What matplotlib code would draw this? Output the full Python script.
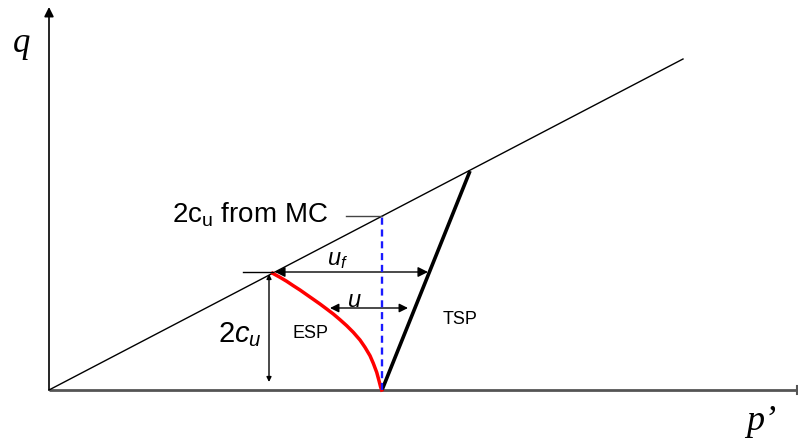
import matplotlib.pyplot as plt
from matplotlib.patches import FancyArrowPatch

plt.rcParams["mathtext.fontset"] = "custom"
plt.rcParams["mathtext.rm"] = "Liberation Sans"
plt.rcParams["mathtext.it"] = "Liberation Sans:italic"

# p'-q plane, origin at the corner of the axes (units roughly pixels)
ORIGIN_PX = (49, 391)

# Mohr-Coulomb failure line end points
mc_p = [0, 634]
mc_q = [0, 331]

# total stress path (straight) and effective stress path (curved)
tsp_p = [333, 421]
tsp_q = [0, 219]
esp_p = [332.7, 331.7, 330.0, 327.7, 324.3, 321.0, 316.0, 311.0, 304.3,
         297.7, 291.0, 284.3, 277.7, 271.0, 264.3, 257.7, 251.0, 244.3,
         237.7, 231.0, 223.7]
esp_q = [0.0, 2.7, 9.3, 17.7, 26.7, 34.3, 42.7, 50.0, 57.7,
         64.3, 70.3, 76.0, 81.0, 86.0, 90.7, 95.3, 100.0, 104.3,
         108.7, 112.7, 116.7]

# undrained strength read at the failure point and from MC at p0
fail_p, fail_q = 224, 117
p0 = 333
mc_q_at_p0 = 174
u_f_end = 379
u_q, u_left, u_right = 82, 281, 359

fig = plt.figure(figsize=(7.98, 4.39), dpi=100)
ax = fig.add_axes([0, 0, 1, 1])
ax.set_xlim(-ORIGIN_PX[0], 798 - ORIGIN_PX[0])
ax.set_ylim(ORIGIN_PX[1] - 439, ORIGIN_PX[1])
ax.axis("off")


def arrow(x0, y0, x1, y1, style, scale, lw=1.0, color="black"):
    ax.add_patch(FancyArrowPatch((x0, y0), (x1, y1), arrowstyle=style,
                                 mutation_scale=scale, lw=lw, color=color,
                                 shrinkA=0, shrinkB=0, clip_on=False))


# axes
arrow(0, 0, 0, 383, "-|>", 14, lw=1.2)
ax.plot([0, 748], [0, 0], color="#555555", lw=2.0, solid_capstyle="butt")
ax.plot([748, 748], [-4, 4], color="#555555", lw=1.5)

# failure line and stress paths
ax.plot(mc_p, mc_q, color="black", lw=1.0)
ax.plot(tsp_p, tsp_q, color="black", lw=2.6, solid_capstyle="butt")
ax.plot(esp_p, esp_q, color="#ff0000", lw=2.5)
ax.plot([p0, p0], [0, mc_q_at_p0], color="#1a1aff", lw=1.7, ls=(0, (3, 2)))
ax.plot([297, p0], [mc_q_at_p0, mc_q_at_p0], color="#444444", lw=1.0)

# pore pressure arrows
ax.plot([194, fail_p], [fail_q + 1, fail_q + 1], color="black", lw=1.0)
arrow(fail_p + 2, fail_q + 1, u_f_end, fail_q + 1, "<|-|>", 15)
arrow(u_left, u_q, u_right, u_q, "<|-|>", 13)
arrow(220, 8, 220, fail_q - 1, "<|-|>", 7)

# labels
ax.text(-27, 347, "q", fontsize=25, family="Liberation Serif",
        style="italic", ha="center", va="center")
ax.text(712, -31, "p\u2019", fontsize=26, family="Liberation Serif",
        style="italic", ha="center", va="center")
ax.text(279, 176, r"2c$_\mathrm{u}$ from MC", fontsize=20,
        family="Liberation Sans", ha="right", va="center")
ax.text(278, 132, r"$u_f$", fontsize=17, va="center")
ax.text(298, 91, r"$u$", fontsize=17, va="center")
ax.text(169, 56, r"$2c_u$", fontsize=21, va="center")
ax.text(243, 57, "ESP", fontsize=13, family="Liberation Sans", va="center")
ax.text(394, 72, "TSP", fontsize=13, family="Liberation Sans", va="center")

fig.savefig("out.png", dpi=100)
